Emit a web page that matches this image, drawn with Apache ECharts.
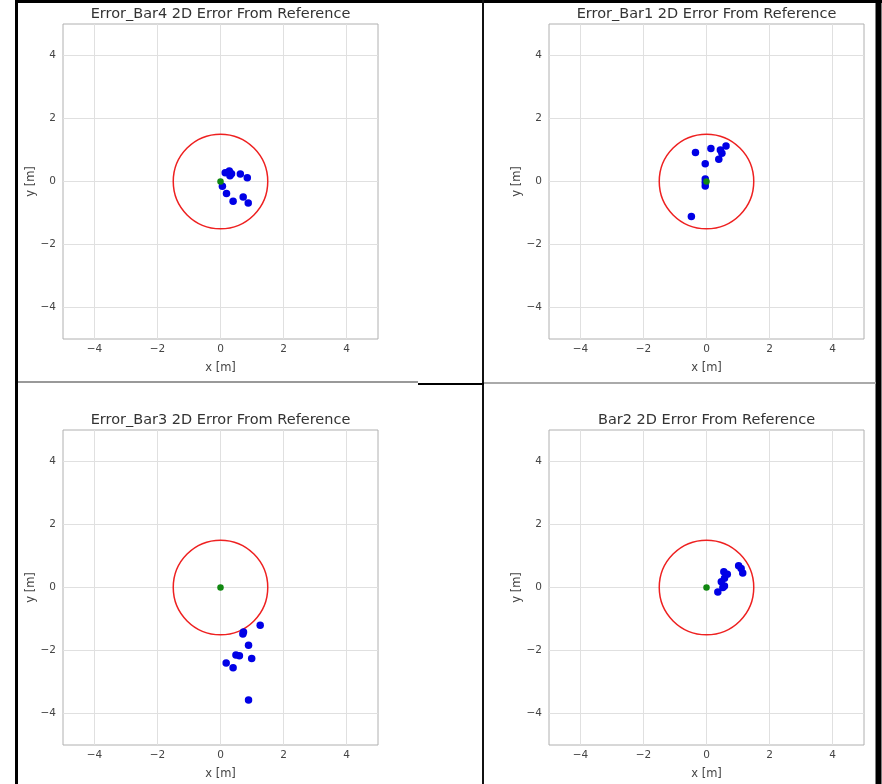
<!DOCTYPE html>
<html>
<head>
<meta charset="utf-8">
<script src="https://cdn.jsdelivr.net/npm/echarts@6/dist/echarts.min.js"></script>
<style>
  html, body { margin: 0; padding: 0; background: #fff; }
  #main { width: 882px; height: 784px; }
</style>
</head>
<body>
<div id="main"></div>
<script>
// panel titles, in drawing order: top-left, top-right, bottom-left, bottom-right
var titles = [
  'Error_Bar4 2D Error From Reference',
  'Error_Bar1 2D Error From Reference',
  'Error_Bar3 2D Error From Reference',
  'Bar2 2D Error From Reference'
];

var tickValues = [-4, -2, 0, 2, 4];
var axisMin = -5;
var axisMax = 5;
var circleRadius = 1.5;
var referencePoint = [[0, 0]];

// measured errors [x, y] in metres
var bar4Points = [
  [0.15, 0.28], [0.28, 0.33], [0.30, 0.18], [0.35, 0.25], [0.63, 0.24],
  [0.85, 0.12], [0.06, -0.15], [0.19, -0.38], [0.40, -0.63], [0.72, -0.49],
  [0.88, -0.68]
];
var bar1Points = [
  [-0.35, 0.92], [0.14, 1.05], [0.44, 1.0], [0.49, 0.9], [0.62, 1.13],
  [0.39, 0.71], [-0.04, 0.56], [-0.04, 0.08], [-0.04, -0.03], [-0.04, -0.14],
  [-0.48, -1.11]
];
var bar3Points = [
  [0.73, -1.41], [0.71, -1.48], [1.26, -1.20], [0.89, -1.83], [0.49, -2.14],
  [0.60, -2.17], [0.99, -2.25], [0.18, -2.40], [0.40, -2.55], [0.89, -3.57]
];
var bar2Points = [
  [0.36, -0.14], [0.52, 0.0], [0.47, 0.18], [0.57, 0.29], [0.55, 0.50],
  [0.66, 0.42], [0.57, 0.05], [1.02, 0.69], [1.10, 0.60], [1.15, 0.46]
];

var panelData = [bar4Points, bar1Points, bar3Points, bar2Points];

var chart = echarts.init(document.getElementById('main'), null, { renderer: 'canvas' });

var font = 'DejaVu Sans';
var panels = [
  { left: 63, top: 24 },
  { left: 549, top: 24 },
  { left: 63, top: 430 },
  { left: 549, top: 430 }
];
var plotW = 315, plotH = 315;

function minusFmt(v) {
  return String(v).replace('-', '\u2212');
}

var grid = [], xAxis = [], yAxis = [], title = [], series = [];

panels.forEach(function (p, i) {
  grid.push({
    left: p.left, top: p.top, width: plotW, height: plotH,
    show: true, borderColor: '#b0b0b0', borderWidth: 1, backgroundColor: '#fff'
  });
  title.push({
    text: titles[i],
    left: p.left + plotW / 2,
    top: p.top - 17,
    textAlign: 'center',
    padding: 0,
    textStyle: { fontFamily: font, fontSize: 14.5, fontWeight: 'normal', color: '#333' }
  });
  var axisCommon = {
    type: 'value', gridIndex: i, min: axisMin, max: axisMax,
    nameLocation: 'middle',
    nameTextStyle: { fontFamily: font, fontSize: 11.5, color: '#444' },
    axisLine: { show: false },
    axisTick: { show: false, customValues: tickValues },
    axisLabel: {
      customValues: tickValues, formatter: minusFmt,
      fontFamily: font, fontSize: 10.5, color: '#444'
    },
    splitLine: { show: true, lineStyle: { color: '#e0e0e0', width: 1 } }
  };
  xAxis.push(Object.assign({}, axisCommon, {
    name: 'x [m]', nameGap: 23,
    axisLabel: Object.assign({}, axisCommon.axisLabel, { margin: 5 })
  }));
  yAxis.push(Object.assign({}, axisCommon, {
    name: 'y [m]', nameGap: 25,
    axisLabel: Object.assign({}, axisCommon.axisLabel, { margin: 7 })
  }));

  // tolerance circle
  series.push({
    type: 'custom', xAxisIndex: i, yAxisIndex: i,
    data: [[0, 0, circleRadius]],
    silent: true,
    renderItem: function (params, api) {
      var c = api.coord([api.value(0), api.value(1)]);
      var r = api.size([api.value(2), 0])[0];
      return {
        type: 'circle',
        shape: { cx: c[0], cy: c[1], r: r },
        style: { fill: 'none', stroke: '#ee2020', lineWidth: 1.5 }
      };
    }
  });
  series.push({
    type: 'scatter', xAxisIndex: i, yAxisIndex: i,
    data: panelData[i], symbolSize: 7.5,
    itemStyle: { color: '#0000e6', opacity: 1 }
  });
  series.push({
    type: 'scatter', xAxisIndex: i, yAxisIndex: i,
    data: referencePoint, symbolSize: 6.5,
    itemStyle: { color: '#118811', opacity: 1 }
  });
});

var option = {
  animation: false,
  backgroundColor: '#fff',
  title: title,
  grid: grid,
  xAxis: xAxis,
  yAxis: yAxis,
  series: series,
  graphic: [
    // outer frame and dividers
    { type: 'line', shape: { x1: 15, y1: 1.5, x2: 882, y2: 1.5 }, style: { stroke: '#000', lineWidth: 3 } },
    { type: 'line', shape: { x1: 16.5, y1: 0, x2: 16.5, y2: 784 }, style: { stroke: '#000', lineWidth: 3 } },
    { type: 'line', shape: { x1: 878.5, y1: 0, x2: 878.5, y2: 784 }, style: { stroke: '#000', lineWidth: 6 } },
    { type: 'line', shape: { x1: 483, y1: 0, x2: 483, y2: 784 }, style: { stroke: '#111', lineWidth: 2 } },
    { type: 'line', shape: { x1: 18, y1: 382, x2: 418, y2: 382 }, style: { stroke: '#999', lineWidth: 2 } },
    { type: 'line', shape: { x1: 418, y1: 384, x2: 484, y2: 384 }, style: { stroke: '#000', lineWidth: 2 } },
    { type: 'line', shape: { x1: 484, y1: 383, x2: 876, y2: 383 }, style: { stroke: '#aaa', lineWidth: 2 } }
  ]
};

chart.setOption(option);
</script>
</body>
</html>
